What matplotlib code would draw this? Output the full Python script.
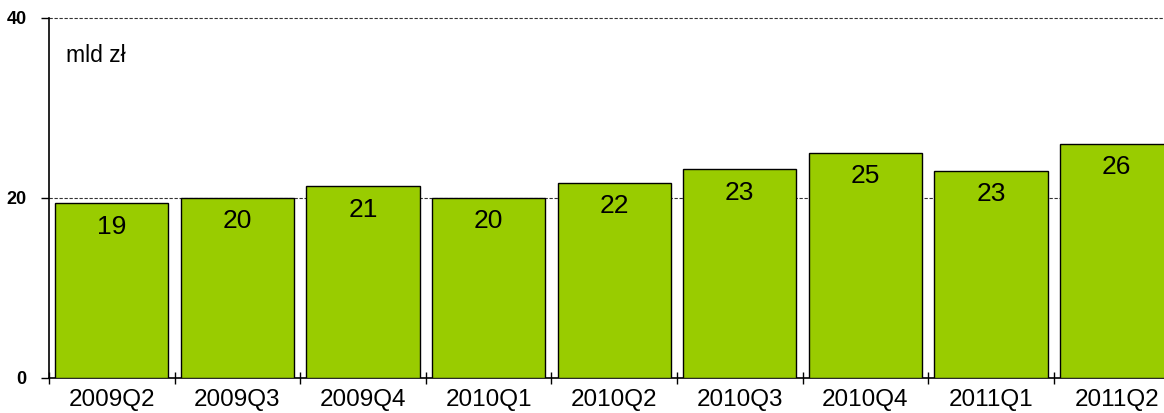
import matplotlib
matplotlib.use("Agg")
import matplotlib.pyplot as plt

categories = ["2009Q2", "2009Q3", "2009Q4", "2010Q1", "2010Q2", "2010Q3", "2010Q4", "2011Q1", "2011Q2"]
values = [19.4, 20.0, 21.3, 20.0, 21.7, 23.2, 25.0, 23.0, 26.0]
labels = ["19", "20", "21", "20", "22", "23", "25", "23", "26"]

plt.rcParams['font.family'] = ['Liberation Sans', 'DejaVu Sans']

W, H = 1164, 413
fig = plt.figure(figsize=(W / 100, H / 100), dpi=100)
left_px, right_px, top_px, bot_px = 49, 49 + 9 * 125.6, 18, 378
ax = fig.add_axes([left_px / W, 1 - bot_px / H, (right_px - left_px) / W, (bot_px - top_px) / H])

x = list(range(len(categories)))
ax.bar(x, values, width=0.9, color="#99CC00", edgecolor="black", linewidth=1.0, zorder=3)
for xi, v, lab in zip(x, values, labels):
    ax.text(xi, v - 2.6, lab, ha="center", va="center", fontsize=19, zorder=4)

ax.set_xlim(-0.5, len(categories) - 0.5)
ax.set_ylim(0, 40)
ax.set_yticks([0, 20, 40])
ax.set_yticklabels(["0", "20", "40"], fontweight="bold")
ax.set_xticks([i - 0.5 for i in range(len(categories) + 1)])
ax.set_xticklabels([])
ax.set_xticks(x, minor=True)
ax.set_xticklabels(categories, minor=True)
ax.tick_params(axis="x", which="minor", length=0, pad=8, labelsize=17.5)
ax.tick_params(axis="x", which="major", direction="inout", length=9, width=1)
ax.tick_params(axis="y", direction="out", length=6, width=1, pad=10, labelsize=13)

for y in [20, 40]:
    ax.axhline(y, color="#333333", linestyle=(0, (3, 1.5)), linewidth=0.8, zorder=1, clip_on=False)

for s in ["top", "right"]:
    ax.spines[s].set_visible(False)
ax.spines["left"].set_linewidth(1.2)
ax.spines["bottom"].set_linewidth(1.2)

ax.text(66 / W, 1 - 55 / H, "mld zł", transform=fig.transFigure, fontsize=16.5, va="center", ha="left")

fig.savefig("out.png", dpi=100)
